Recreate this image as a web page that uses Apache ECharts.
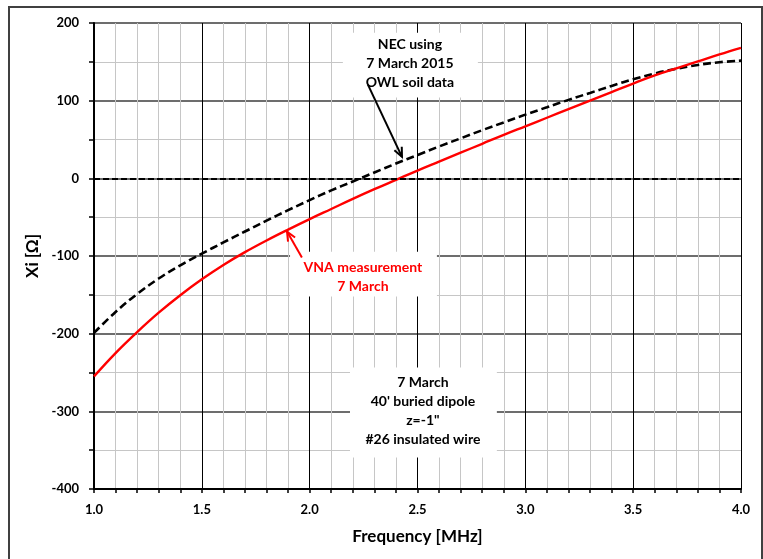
<!DOCTYPE html>
<html>
<head>
<meta charset="utf-8">
<script src="https://cdn.jsdelivr.net/npm/echarts@6/dist/echarts.min.js"></script>
<style>
html,body{margin:0;padding:0;background:#fff;}
#chart{width:763px;height:559px;}
</style>
</head>
<body>
<div id="chart"></div>
<script>
// ---- data ----
const freqMHz = [1.0,1.1,1.2,1.3,1.4,1.5,1.6,1.7,1.8,1.9,2.0,2.1,2.2,2.3,2.4,2.5,2.6,2.7,2.8,2.9,3.0,3.1,3.2,3.3,3.4,3.5,3.6,3.7,3.8,3.9,4.0];
const necXi = [-199,-172,-149,-129,-112,-97,-82.5,-68.5,-54.5,-41,-28,-15.5,-4,7.5,19,30,41,51.5,62,72,82,91.5,101,110,119,127.5,135,141,146,149.5,151.5];
const vnaXi = [-255,-225,-198,-173,-150.5,-130,-111.5,-95,-80,-66,-52.5,-39.5,-26.5,-14,-2,10,21.5,33,44.5,56,67,78,89,100,111,122,132.5,141.5,150.5,159.5,168];
const xAxisRange = [1.0, 4.0];
const yAxisRange = [-400, 200];
const necLabel = 'NEC using\n7 March 2015\nOWL soil data';
const vnaLabel = 'VNA measurement\n7 March';
const infoLabel = "7 March\n40' buried dipole\nz=-1\"\n#26 insulated wire";

const FONT = 'Lato, "Liberation Sans", sans-serif';
const chart = echarts.init(document.getElementById('chart'), null, {renderer:'canvas'});

const pairs = (xs, ys) => xs.map((x,i)=>[x, ys[i]]);

chart.setOption({
  backgroundColor:'#fff',
  animation:false,
  grid:{left:94, right:22, top:23, bottom:70},
  xAxis:{
    type:'value', min:xAxisRange[0], max:xAxisRange[1], interval:0.5,
    axisLine:{show:true, onZero:false, lineStyle:{color:'#000', width:2}},
    axisTick:{show:true, length:4, lineStyle:{color:'#000', width:1.5}},
    minorTick:{show:true, splitNumber:5, length:4, lineStyle:{color:'#000', width:1.5}},
    splitLine:{show:true, lineStyle:{color:'#000', width:1}},
    minorSplitLine:{show:true, lineStyle:{color:'#c6c6c6', width:1}},
    axisLabel:{formatter:v=>v.toFixed(1), color:'#000', fontWeight:'bold', fontSize:13, fontFamily:FONT, margin:14},
    name:'Frequency [MHz]', nameLocation:'middle', nameGap:39,
    nameTextStyle:{color:'#000', fontWeight:'bold', fontSize:17, fontFamily:FONT}
  },
  yAxis:{
    type:'value', min:yAxisRange[0], max:yAxisRange[1], interval:100,
    axisLine:{show:true, onZero:false, lineStyle:{color:'#000', width:2}},
    axisTick:{show:true, length:5, lineStyle:{color:'#000', width:1.5}},
    minorTick:{show:true, splitNumber:2, length:5, lineStyle:{color:'#000', width:1.5}},
    splitLine:{show:true, lineStyle:{color:'#3c3c3c', width:1.5}},
    minorSplitLine:{show:true, lineStyle:{color:'#c6c6c6', width:1}},
    axisLabel:{color:'#000', fontWeight:'bold', fontSize:13, fontFamily:FONT, margin:15},
    name:'Xi [Ω]', nameLocation:'middle', nameGap:53, nameRotate:90,
    nameTextStyle:{color:'#000', fontWeight:'bold', fontSize:17, fontFamily:FONT}
  },
  series:[
    {
      name:'NEC', type:'line', data:pairs(freqMHz, necXi), smooth:0.4, showSymbol:false,
      lineStyle:{color:'#000', width:2.6, type:[8,4]}, z:3,
      markLine:{silent:true, symbol:'none', label:{show:false},
        lineStyle:{color:'#000', width:2, type:[6,3]}, data:[{yAxis:0}]}
    },
    {
      name:'VNA', type:'line', data:pairs(freqMHz, vnaXi), smooth:0.4, showSymbol:false,
      lineStyle:{color:'#ff0000', width:2.4}, z:4
    }
  ]
});

function px(f, v){ return chart.convertToPixel({xAxisIndex:0, yAxisIndex:0}, [f, v]); }
function box(f0, v0, f1, v1){
  const a = px(f0, v0), b = px(f1, v1);
  return {type:'rect', z:10, shape:{x:Math.min(a[0],b[0]), y:Math.min(a[1],b[1]), width:Math.abs(b[0]-a[0]), height:Math.abs(b[1]-a[1])}, style:{fill:'#fff', stroke:null}};
}
function label(f, v, text, color){
  const p = px(f, v);
  return {type:'text', z:11, x:p[0], y:p[1], style:{text:text, align:'center', verticalAlign:'middle', font:'bold 14px '+FONT, fill:color, lineHeight:19}};
}
function arrow(f0, v0, f1, v1, color){
  const a = px(f0, v0), b = px(f1, v1);
  const ang = Math.atan2(a[1]-b[1], a[0]-b[0]);
  const L = 10, sp = 0.42;
  const h1 = [b[0]+L*Math.cos(ang+sp), b[1]+L*Math.sin(ang+sp)];
  const h2 = [b[0]+L*Math.cos(ang-sp), b[1]+L*Math.sin(ang-sp)];
  return [
    {type:'polyline', z:12, shape:{points:[a,b]}, style:{stroke:color, lineWidth:2, fill:null}},
    {type:'polyline', z:12, shape:{points:[h1,b,h2]}, style:{stroke:color, lineWidth:2, fill:null}}
  ];
}

const g = [];
g.push({type:'rect', z:20, shape:{x:9, y:7, width:753, height:560}, style:{fill:null, stroke:'#404040', lineWidth:2}});
g.push(box(2.154, 187.6, 2.780, 104));
g.push(label(2.465, 148.3, necLabel, '#000'));
g.push(box(1.909, -94.4, 2.590, -152.3));
g.push(label(2.247, -127.2, vnaLabel, '#ff0000'));
g.push(box(2.187, -243.7, 2.868, -359.6));
g.push(label(2.525, -299.6, infoLabel, '#000'));
g.push(...arrow(2.270, 120.6, 2.428, 27.7, '#000'));
g.push(...arrow(1.964, -102, 1.895, -68.6, '#ff0000'));
chart.setOption({graphic:g});
</script>
</body>
</html>
